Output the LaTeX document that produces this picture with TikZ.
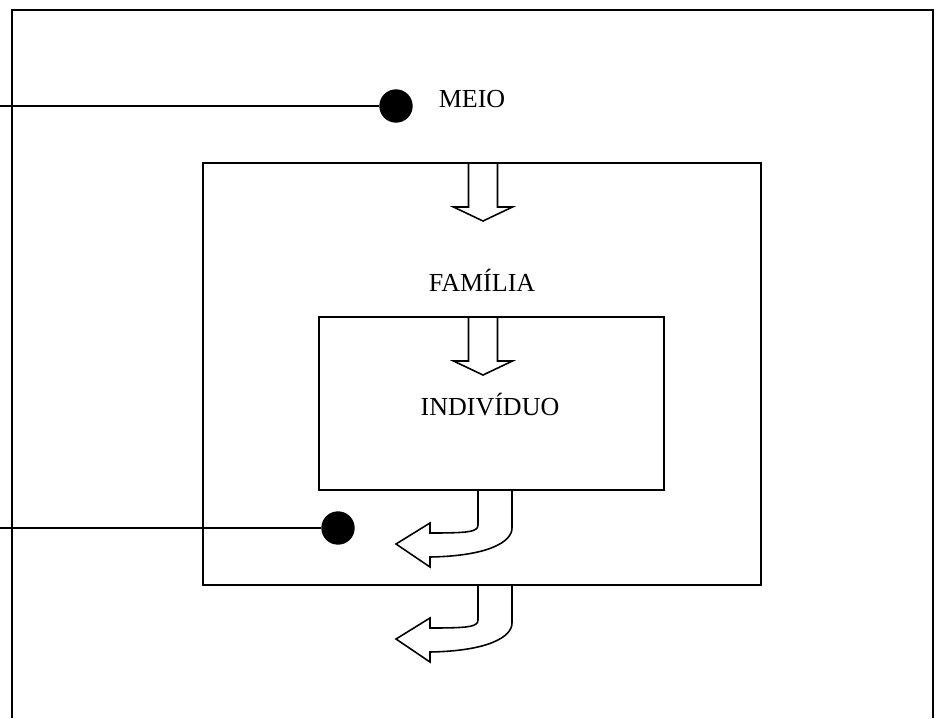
\documentclass[tikz,border=0pt]{standalone}
\usepackage{fontspec}
\setmainfont{Liberation Serif}
\begin{document}
\begin{tikzpicture}[x=0.02cm,y=-0.02cm,
		pointdot/.style={circle,fill=black,inner sep=0pt,minimum size=19},
		blockarrow/.style={draw,fill=white,line width=0.9pt,line join=miter},
		boxline/.style={line width=1.1pt},
		label/.style={anchor=base,font=\fontsize{14.8}{17}\selectfont}]
		\useasboundingbox (0,0) rectangle (941,718);
		
		\draw[line width=1.4pt] (12,718) -- (12,10) -- (933,10) -- (933,718);
		
		\draw[boxline] (203,163) rectangle (761,585);
		\draw[boxline] (319,317) rectangle (664,490);
		
		\draw[blockarrow,shift={(483,163)}] (-14.5,0) -- (-14.5,44) -- (-29.5,44) -- (0,58) -- (29.5,44) -- (14.5,44) -- (14.5,0) -- cycle;
		\draw[blockarrow,shift={(483,317)}] (-14.5,0) -- (-14.5,44) -- (-29.5,44) -- (0,58) -- (29.5,44) -- (14.5,44) -- (14.5,0) -- cycle;
		
		\draw[blockarrow,shift={(478,490)}] (0,0) -- (0,35) .. controls (0,42) and (-10,43) .. (-48,43) -- (-48,33) -- (-82,54) -- (-48,77) -- (-48,67) .. controls (10,66) and (34,52) .. (34,38) -- (34,0) -- cycle;
		\draw[blockarrow,shift={(478,585)}] (0,0) -- (0,35) .. controls (0,42) and (-10,43) .. (-48,43) -- (-48,33) -- (-82,54) -- (-48,77) -- (-48,67) .. controls (10,66) and (34,52) .. (34,38) -- (34,0) -- cycle;
		
		\node[label] (meio) at (472,107) {MEIO};
		\node[label] (familia) at (482,291) {FAMÍLIA};
		\node[label] (individuo) at (490,415) {INDIVÍDUO};
		
		\coordinate (meioend) at (0,106);
		\coordinate (familiaend) at (0,528);
		\node[pointdot] (meiodot) at (396,106) {};
		\node[pointdot] (familiadot) at (338,528) {};
		\draw[line width=1pt] (meioend) -- (meiodot);
		\draw[line width=0.8pt] (familiaend) -- (familiadot);
	\end{tikzpicture}
\end{document}
